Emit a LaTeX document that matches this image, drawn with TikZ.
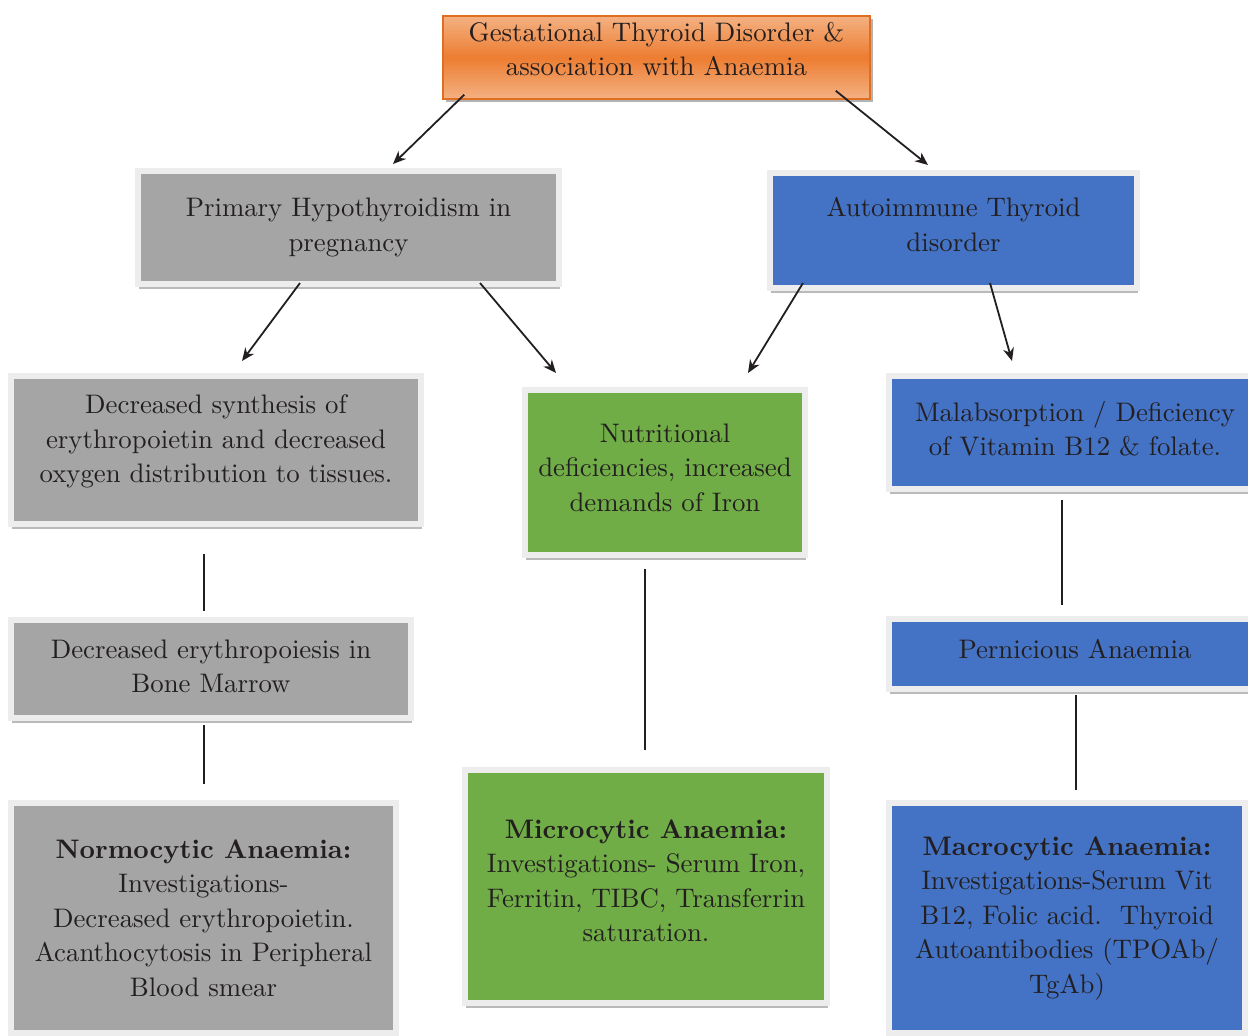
\documentclass[tikz,border=0pt]{standalone}
\usepackage{fontspec}
\setmainfont{lmroman10-regular.otf}[BoldFont=lmroman10-bold.otf]
\usetikzlibrary{arrows.meta,shadows,calc}
\definecolor{boxgray}{HTML}{A5A5A5}
\definecolor{boxblue}{HTML}{4472C4}
\definecolor{boxgreen}{HTML}{70AD47}
\definecolor{boxorange}{HTML}{ED7D31}
\definecolor{orangelight}{HTML}{F4B183}
\definecolor{orangeedge}{HTML}{E06E20}
\definecolor{rimcol}{HTML}{EDEDED}
\definecolor{txt}{HTML}{231F20}
\tikzset{
  basebox/.style={rectangle, align=center, text=txt, inner sep=0pt,
    font=\fontsize{26.8}{34.5}\selectfont,
    draw=rimcol, line width=6pt,
    drop shadow={shadow xshift=1pt, shadow yshift=-5pt, fill=black!45, opacity=0.6}},
  graybox/.style={basebox, fill=boxgray},
  bluebox/.style={basebox, fill=boxblue},
  greenbox/.style={basebox, fill=boxgreen},
  topbox/.style={rectangle, align=center, text=txt, inner sep=0pt,
    font=\fontsize{26.8}{34.5}\selectfont,
    top color=orangelight, bottom color=orangelight, middle color=boxorange,
    draw=orangeedge, line width=1.5pt,
    drop shadow={shadow xshift=3pt, shadow yshift=-3pt, fill=black!50, opacity=0.6}},
  arr/.style={draw=txt, line width=1.8pt, -{Stealth[length=13pt,width=11pt]}},
  conn/.style={draw=txt, line width=1.8pt}
}
\begin{document}
\begin{tikzpicture}[x=1pt,y=-1pt]
\useasboundingbox (0,0) rectangle (1248,1036);
\node[topbox, minimum width=427pt, minimum height=83pt, text depth=17pt] (top) at (656.5,57.5)
  {Gestational Thyroid Disorder \&\\association with Anaemia};
\node[graybox, minimum width=421pt, minimum height=113pt] (prim) at (348.5,227.5)
  {Primary Hypothyroidism in\\pregnancy};
\node[bluebox, minimum width=367pt, minimum height=115pt, text depth=12pt] (auto) at (953.5,230.5)
  {Autoimmune Thyroid\\disorder};
\node[graybox, minimum width=410pt, minimum height=148pt, text depth=22pt] (decsyn) at (216,450)
  {Decreased synthesis of\\erythropoietin and decreased\\oxygen distribution to tissues.};
\node[greenbox, minimum width=280pt, minimum height=165pt, text depth=10pt] (nutri) at (665,472.5)
  {Nutritional\\deficiencies, increased\\demands of Iron};
\node[bluebox, minimum width=372pt, minimum height=113pt, text depth=8pt] (malab) at (1075,432.5)
  {Malabsorption / Deficiency\\of Vitamin B12 \& folate.};
\node[graybox, minimum width=400pt, minimum height=98pt, text depth=6pt] (decery) at (211,669)
  {Decreased erythropoiesis in\\Bone Marrow};
\node[bluebox, minimum width=372pt, minimum height=70pt, text depth=10pt] (pern) at (1075,654)
  {Pernicious Anaemia};
\node[graybox, minimum width=385pt, minimum height=230pt, text depth=-6pt] (normo) at (203.5,918)
  {\textbf{Normocytic Anaemia:}\\Investigations-\\Decreased erythropoietin.\\Acanthocytosis in Peripheral\\Blood smear};
\node[greenbox, minimum width=362pt, minimum height=233pt, text depth=12pt] (micro) at (646,886.5)
  {\textbf{Microcytic Anaemia:}\\Investigations- Serum Iron,\\Ferritin, TIBC, Transferrin\\saturation.};
\node[bluebox, minimum width=356pt, minimum height=230pt] (macro) at (1067,918)
  {\textbf{Macrocytic Anaemia:}\\Investigations-Serum Vit\\B12, Folic acid.\ \ Thyroid\\Autoantibodies (TPOAb/\\TgAb)};
% arrows
\draw[arr] ([xshift=22pt,yshift=5pt]top.south west) -- ([xshift=44.5pt,yshift=4pt]prim.north);
\draw[arr] ([xshift=-35pt,yshift=9pt]top.south east) -- ([xshift=-25.5pt,yshift=5pt]auto.north);
\draw[arr] ([xshift=-48.5pt,yshift=4pt]prim.south) -- ([xshift=26pt,yshift=12pt]decsyn.north);
\draw[arr] ([xshift=131.5pt,yshift=4pt]prim.south) -- ([xshift=-109pt,yshift=14pt]nutri.north);
\draw[arr] ([xshift=-150.5pt,yshift=8pt]auto.south) -- ([xshift=83pt,yshift=14pt]nutri.north);
\draw[arr] ([xshift=36.5pt,yshift=8pt]auto.south) -- ([xshift=-63pt,yshift=12pt]malab.north);
% plain connectors
\draw[conn] ([xshift=-12pt,yshift=-27pt]decsyn.south) -- ([xshift=-7pt,yshift=6pt]decery.north);
\draw[conn] ([xshift=-7pt,yshift=-4pt]decery.south) -- ([xshift=0.5pt,yshift=16pt]normo.north);
\draw[conn] ([xshift=-20pt,yshift=-11pt]nutri.south) -- ([xshift=-1pt,yshift=17pt]micro.north);
\draw[conn] ([xshift=-13pt,yshift=-8pt]malab.south) -- ([xshift=-13pt,yshift=11pt]pern.north);
\draw[conn] ([xshift=1pt,yshift=-3pt]pern.south) -- ([xshift=9pt,yshift=10pt]macro.north);
\end{tikzpicture}
\end{document}
